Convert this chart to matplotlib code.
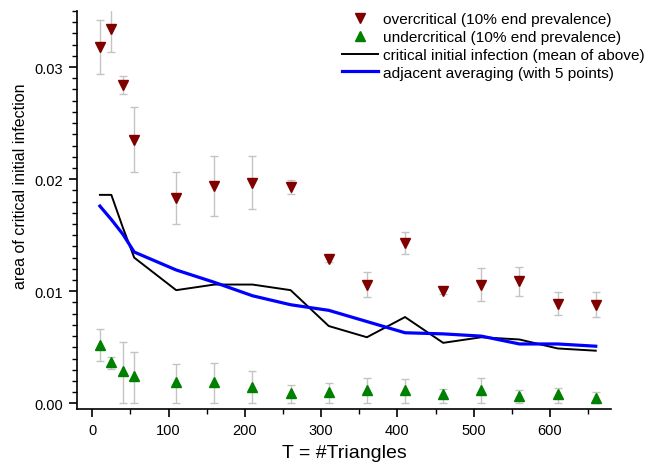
import matplotlib
matplotlib.use("Agg")
import matplotlib.pyplot as plt
from matplotlib.ticker import MultipleLocator, FormatStrFormatter

plt.rcParams['font.family'] = ['Liberation Sans', 'DejaVu Sans']

# triangle counts T
T = [10, 25, 40, 55, 110, 160, 210, 260, 310, 360, 410, 460, 510, 560, 610, 660]

# overcritical (10% end prevalence)
over = [0.0318, 0.0334, 0.0284, 0.0235, 0.0183, 0.0194, 0.0197, 0.0193,
        0.0129, 0.0106, 0.0143, 0.0100, 0.0106, 0.0109, 0.0089, 0.0088]
over_err = [0.0024, 0.0021, 0.0008, 0.0029, 0.0023, 0.0027, 0.0024, 0.0006,
            0.0003, 0.0011, 0.0010, 0.0002, 0.0015, 0.0013, 0.0010, 0.0011]

# undercritical (10% end prevalence)
under = [0.0052, 0.0037, 0.0029, 0.0024, 0.0019, 0.0019, 0.0015, 0.0009,
         0.0010, 0.0012, 0.0012, 0.0008, 0.0012, 0.0007, 0.0008, 0.0005]
under_hi = [0.0014, 0.0004, 0.0026, 0.0022, 0.0016, 0.0017, 0.0014, 0.0007,
            0.0008, 0.0011, 0.0010, 0.0005, 0.0011, 0.0005, 0.0006, 0.0005]
under_lo = [0.0014, 0.0006, 0.0029, 0.0024, 0.0019, 0.0019, 0.0015, 0.0009,
            0.0010, 0.0012, 0.0012, 0.0008, 0.0012, 0.0007, 0.0008, 0.0005]

# critical initial infection (mean of above)
critical = [0.0186, 0.0186, 0.0157, 0.0130, 0.0101, 0.0106, 0.0106, 0.0101,
            0.0069, 0.0059, 0.0077, 0.0054, 0.0059, 0.0057, 0.0049, 0.0047]

# adjacent averaging (with 5 points)
smooth = [0.0176, 0.0164, 0.0151, 0.0135, 0.0119, 0.0108, 0.0096, 0.0088,
          0.0083, 0.0073, 0.0063, 0.0062, 0.0060, 0.0053, 0.0053, 0.0051]

fig = plt.figure(figsize=(6.45, 4.64), dpi=100)
ax = fig.add_axes([0.1194, 0.1164, 0.8279, 0.8577])

ax.errorbar(T, over, yerr=over_err, fmt='none', ecolor='#c4c4c4', elinewidth=1,
            capsize=3, capthick=1, zorder=1)
ax.errorbar(T, under, yerr=[under_lo, under_hi], fmt='none', ecolor='#c4c4c4',
            elinewidth=1, capsize=3, capthick=1, zorder=1)

ax.plot(T, over, 'v', color='#800000', markersize=7, linestyle='none',
        label='overcritical (10% end prevalence)', zorder=3)
ax.plot(T, under, '^', color='#008000', markersize=7, linestyle='none',
        label='undercritical (10% end prevalence)', zorder=3)
ax.plot(T, critical, color='black', linewidth=1.4,
        label='critical initial infection (mean of above)', zorder=2)
ax.plot(T, smooth, color='#0000ff', linewidth=2.3,
        label='adjacent averaging (with 5 points)', zorder=2)

ax.set_xlim(-20, 680)
ax.set_ylim(-0.0005, 0.035)

ax.xaxis.set_major_locator(MultipleLocator(100))
ax.xaxis.set_minor_locator(MultipleLocator(50))
ax.yaxis.set_major_locator(MultipleLocator(0.01))
ax.yaxis.set_minor_locator(MultipleLocator(0.001))
ax.yaxis.set_major_formatter(FormatStrFormatter('%.2f'))

for s in ['top', 'right']:
    ax.spines[s].set_visible(False)
for s in ['left', 'bottom']:
    ax.spines[s].set_linewidth(1.2)

ax.tick_params(which='major', length=6, width=1.2, labelsize=10.5, pad=4)
ax.tick_params(which='minor', length=3.5, width=1.0)

ax.set_xlabel('T = #Triangles', fontsize=14, labelpad=5)
ax.set_ylabel('area of critical initial infection', fontsize=11.5)
ax.yaxis.set_label_coords(-0.092, 0.563)

ax.legend(loc='upper left', bbox_to_anchor=(0.526, 0.978), bbox_transform=fig.transFigure,
          frameon=False, fontsize=11.1, handlelength=2.3, handletextpad=0.35,
          labelspacing=0.25, borderaxespad=0, borderpad=0.2)

fig.savefig('out.png', dpi=100)
